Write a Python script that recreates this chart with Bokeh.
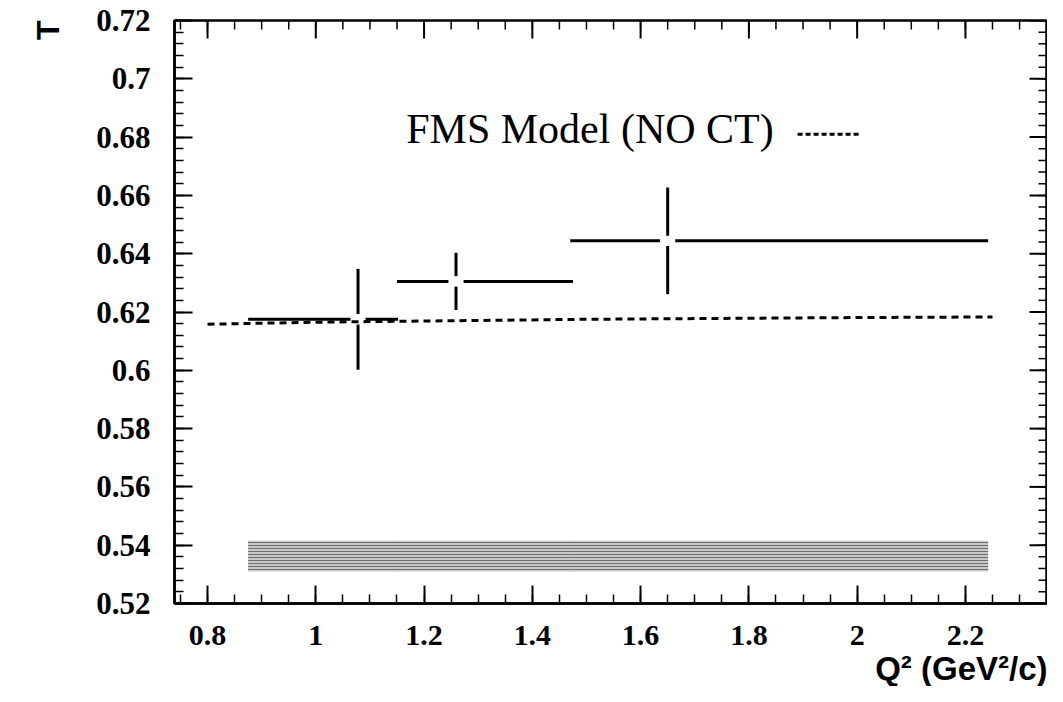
import numpy as np
from bokeh.plotting import figure
from bokeh.models import Range1d, FixedTicker, Title, Label
from bokeh.embed import file_html
from bokeh.resources import INLINE

# ---- data ----
q2 = [1.078, 1.259, 1.650]          # bin centres (GeV^2/c)
q2_lo = [0.875, 1.150, 1.470]       # bin low edges
q2_hi = [1.152, 1.475, 2.242]       # bin high edges
T = [0.6175, 0.6305, 0.6444]        # transparency
T_err = [0.0173, 0.0098, 0.0183]    # statistical errors
sys_lo = [0.531, 0.531, 0.531]      # systematic band bottom
sys_hi = [0.5415, 0.5415, 0.5415]   # systematic band top

fms_q2 = [0.80, 1.00, 1.25, 1.50, 1.75, 2.00, 2.25]
fms_T = [0.6158, 0.6165, 0.6170, 0.6175, 0.6178, 0.6181, 0.6183]

x_ticks = [0.8, 1.0, 1.2, 1.4, 1.6, 1.8, 2.0, 2.2]
x_tick_labels = ["0.8", "1", "1.2", "1.4", "1.6", "1.8", "2", "2.2"]
y_ticks = [0.52, 0.54, 0.56, 0.58, 0.60, 0.62, 0.64, 0.66, 0.68, 0.70, 0.72]
y_tick_labels = ["0.52", "0.54", "0.56", "0.58", "0.6", "0.62", "0.64",
                 "0.66", "0.68", "0.7", "0.72"]
legend_label = "FMS Model (NO CT)"

# ---- figure ----
X0, X1 = 0.739, 2.3516
Y0, Y1 = 0.52, 0.72
p = figure(width=1047, height=686, output_backend="svg", toolbar_location=None,
           x_range=Range1d(X0, X1), y_range=Range1d(Y0, Y1),
           min_border_left=173, min_border_right=0, min_border_top=20,
           min_border_bottom=0)
p.grid.visible = False
p.outline_line_color = "black"
p.outline_line_width = 2.5
p.background_fill_color = "white"
p.border_fill_color = "white"

x_minor = list(np.round(np.arange(0.75, 2.3751, 0.05), 3))
y_minor = list(np.round(np.arange(0.52, 0.7201, 0.004), 4))

MAJ, MIN = 18, 9  # tick lengths in px (inside the frame)


def style_axis(ax, ticks, minor, labels, size, standoff):
    ax.ticker = FixedTicker(ticks=ticks, minor_ticks=minor)
    ax.major_tick_in = MAJ
    ax.major_tick_out = 0
    ax.minor_tick_in = MIN
    ax.minor_tick_out = 0
    ax.major_tick_line_width = 2
    ax.minor_tick_line_width = 1.5
    ax.axis_line_width = 2.5
    ax.major_label_overrides = {t: l for t, l in zip(ticks, labels)}
    ax.major_label_text_font = "Liberation Serif"
    ax.major_label_text_font_style = "bold"
    ax.major_label_text_color = "black"
    ax.major_label_text_font_size = size
    ax.major_label_standoff = standoff


style_axis(p.xaxis[0], x_ticks, x_minor, x_tick_labels, "30px", 22)
style_axis(p.yaxis[0], y_ticks, y_minor, y_tick_labels, "31px", 24)

# mirrored ticks on the top and right edges (ROOT style)
px_x = 874 / (X1 - X0)
px_y = 582 / (Y1 - Y0)
p.segment(x0=x_ticks, y0=[Y1] * len(x_ticks), x1=x_ticks,
          y1=[Y1 - MAJ / px_y] * len(x_ticks), line_color="black", line_width=2)
p.segment(x0=x_minor, y0=[Y1] * len(x_minor), x1=x_minor,
          y1=[Y1 - MIN / px_y] * len(x_minor), line_color="black", line_width=1.5)
p.segment(x0=[X1] * len(y_ticks), y0=y_ticks, x1=[X1 - MAJ / px_x] * len(y_ticks),
          y1=y_ticks, line_color="black", line_width=2)
p.segment(x0=[X1] * len(y_minor), y0=y_minor, x1=[X1 - MIN / px_x] * len(y_minor),
          y1=y_minor, line_color="black", line_width=1.5)

# axis titles
p.add_layout(Title(text="Q² (GeV²/c)", align="right", text_font="Liberation Sans",
                   text_font_style="bold", text_font_size="33px", text_color="black",
                   standoff=0), "below")
p.add_layout(Title(text="T", align="right", text_font="Liberation Sans",
                   text_font_style="bold", text_font_size="32px", text_color="black",
                   standoff=55), "left")

# ---- systematic band ----
p.quad(left=q2_lo, right=q2_hi, bottom=sys_lo, top=sys_hi,
       fill_color="#c8c8c8", line_color=None,
       hatch_pattern="horizontal_line", hatch_color="#6e6e6e",
       hatch_scale=3, hatch_weight=1)

# ---- FMS model (dashed) ----
p.line(fms_q2, fms_T, line_color="black", line_width=3, line_dash="7 5")

# ---- data with error bars (ROOT style, gap around centre) ----
gx = 0.014
gy = 0.0018
q2a = np.array(q2)
Ta = np.array(T)
Ea = np.array(T_err)
p.segment(x0=q2_lo, y0=T, x1=list(q2a - gx), y1=T, line_color="black", line_width=3)
p.segment(x0=list(q2a + gx), y0=T, x1=q2_hi, y1=T, line_color="black", line_width=3)
p.segment(x0=q2, y0=list(Ta - Ea), x1=q2, y1=list(Ta - gy), line_color="black", line_width=3)
p.segment(x0=q2, y0=list(Ta + gy), x1=q2, y1=list(Ta + Ea), line_color="black", line_width=3)

# ---- legend (text then dashed key on its right) ----
p.add_layout(Label(x=1.167, y=0.6827, text=legend_label, text_font="Liberation Serif",
                   text_font_size="42px", text_baseline="middle", text_align="left",
                   text_color="black"))
LEG_X0, LEG_X1, LEG_Y = 1.890, 2.006, 0.6810
p.segment(x0=[LEG_X0], y0=[LEG_Y], x1=[LEG_X1], y1=[LEG_Y], line_color="black",
          line_width=3, line_dash="5 3")

open("out.html", "w").write(file_html(p, INLINE))
